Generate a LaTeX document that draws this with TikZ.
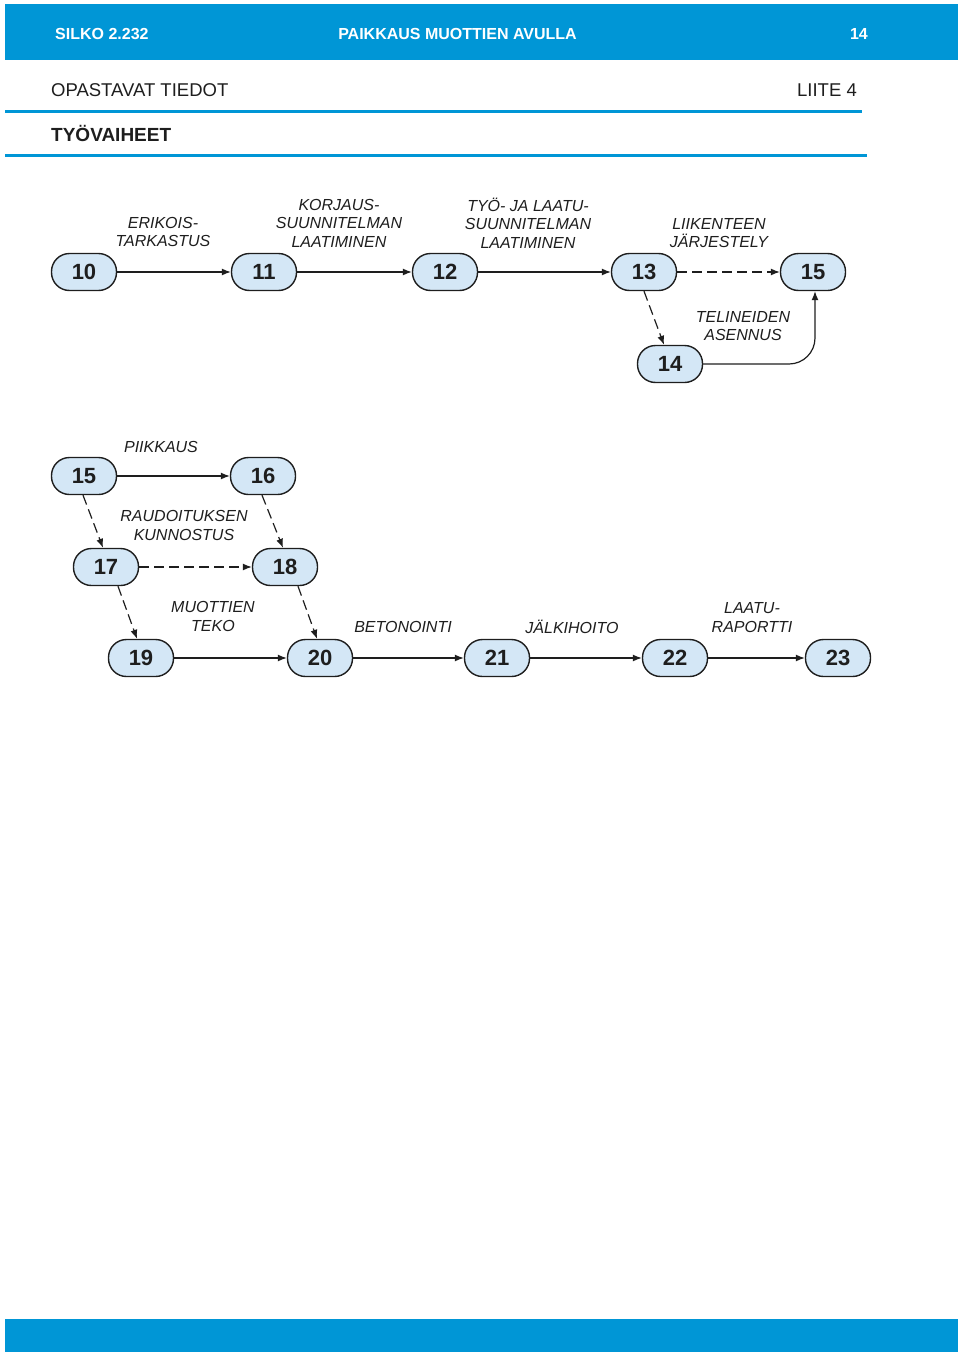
\documentclass[tikz,border=0pt]{standalone}
\usepackage{fontspec}
\setmainfont{Liberation Sans}
\usetikzlibrary{arrows.meta}
\definecolor{hblue}{RGB}{0,150,214}
\definecolor{nfill}{RGB}{212,231,246}
\definecolor{ink}{RGB}{30,30,30}
\tikzset{
  pill/.style={draw=ink, line width=1.4pt, fill=nfill, rounded corners=18pt,
    minimum width=65pt, minimum height=37pt, inner sep=0pt,
    font=\fontsize{22}{22}\selectfont\bfseries, text=ink},
  lab/.style={inner sep=0pt, align=center, text=ink,
    font=\fontsize{16}{18.5}\selectfont\itshape},
  conn/.style={draw=ink, line width=1.2pt, -{Latex[length=9pt,width=7pt]}},
  dconn/.style={conn, dash pattern=on 10pt off 5pt},
}
\begin{document}
\begin{tikzpicture}[x=1pt,y=-1pt]
\useasboundingbox (0,0) rectangle (960,1354);
% header bars
\fill[hblue] (5,4) rectangle (958,60);
\fill[hblue] (5,1319) rectangle (958,1352);
\node[anchor=base west, inner sep=0pt, text=white, font=\fontsize{16}{16}\selectfont\bfseries] (silko) at (55,40) {SILKO 2.232};
\node[anchor=base, inner sep=0pt, text=white, font=\fontsize{16}{16}\selectfont\bfseries] (title) at (457.5,40) {PAIKKAUS MUOTTIEN AVULLA};
\node[anchor=base east, inner sep=0pt, text=white, font=\fontsize{16}{16}\selectfont\bfseries] (pno) at (868,40) {14};
\node[anchor=base west, inner sep=0pt, text=ink, font=\fontsize{18.5}{18.5}\selectfont] (opast) at (51,96) {OPASTAVAT TIEDOT};
\node[anchor=base east, inner sep=0pt, text=ink, font=\fontsize{18.5}{18.5}\selectfont] (liite) at (857,96) {LIITE 4};
\draw[hblue, line width=3pt] (5,111) -- (862,111);
\node[anchor=base west, inner sep=0pt, text=ink, font=\fontsize{19}{19}\selectfont\bfseries] (tyov) at (51,141) {TYÖVAIHEET};
\draw[hblue, line width=3pt] (5,155) -- (867,155);
% nodes row 1
\node[pill] (n10) at (84,272) {10};
\node[pill] (n11) at (264,272) {11};
\node[pill] (n12) at (445,272) {12};
\node[pill] (n13) at (644,272) {13};
\node[pill] (n15a) at (813,272) {15};
\node[pill] (n14) at (670,364) {14};
% nodes lower
\node[pill] (n15) at (84,476) {15};
\node[pill] (n16) at (263,476) {16};
\node[pill] (n17) at (106,567) {17};
\node[pill] (n18) at (285,567) {18};
\node[pill] (n19) at (141,658) {19};
\node[pill] (n20) at (320,658) {20};
\node[pill] (n21) at (497,658) {21};
\node[pill] (n22) at (675,658) {22};
\node[pill] (n23) at (838,658) {23};
% connectors row 1
\draw[conn] (n10) -- (n11);
\draw[conn] (n11) -- (n12);
\draw[conn] (n12) -- (n13);
\draw[dconn] (n13) -- (n15a);
\draw[dconn] ([xshift=0pt]n13.south) -- ([xshift=-6pt]n14.north);
\draw[conn, rounded corners=26pt] (n14.east) -| ([xshift=2pt]n15a.south);
% connectors lower
\draw[conn] (n15) -- (n16);
\draw[dconn] ([xshift=-1pt]n15.south) -- ([xshift=-3pt]n17.north);
\draw[dconn] ([xshift=-1pt]n16.south) -- ([xshift=-2pt]n18.north);
\draw[dconn] (n17) -- (n18);
\draw[dconn] ([xshift=12pt]n17.south) -- ([xshift=-4pt]n19.north);
\draw[dconn] ([xshift=13pt]n18.south) -- ([xshift=-3pt]n20.north);
\draw[conn] (n19) -- (n20);
\draw[conn] (n20) -- (n21);
\draw[conn] (n21) -- (n22);
\draw[conn] (n22) -- (n23);
% labels
\node[lab] (l1) at (163,232) {ERIKOIS-\\TARKASTUS};
\node[lab] (l2) at (339,223) {KORJAUS-\\SUUNNITELMAN\\LAATIMINEN};
\node[lab] (l3) at (528,223) {TYÖ- JA LAATU-\\SUUNNITELMAN\\LAATIMINEN};
\node[lab] (l4) at (719,233) {LIIKENTEEN\\JÄRJESTELY};
\node[lab] (l5) at (743,326) {TELINEIDEN\\ASENNUS};
\node[lab] (l6) at (161,447) {PIIKKAUS};
\node[lab] (l7) at (184,525.5) {RAUDOITUKSEN\\KUNNOSTUS};
\node[lab] (l8) at (213,616.5) {MUOTTIEN\\TEKO};
\node[lab] (l9) at (403,627) {BETONOINTI};
\node[lab] (l10) at (572,627) {JÄLKIHOITO};
\node[lab] (l11) at (752,617.5) {LAATU-\\RAPORTTI};
\end{tikzpicture}
\end{document}
